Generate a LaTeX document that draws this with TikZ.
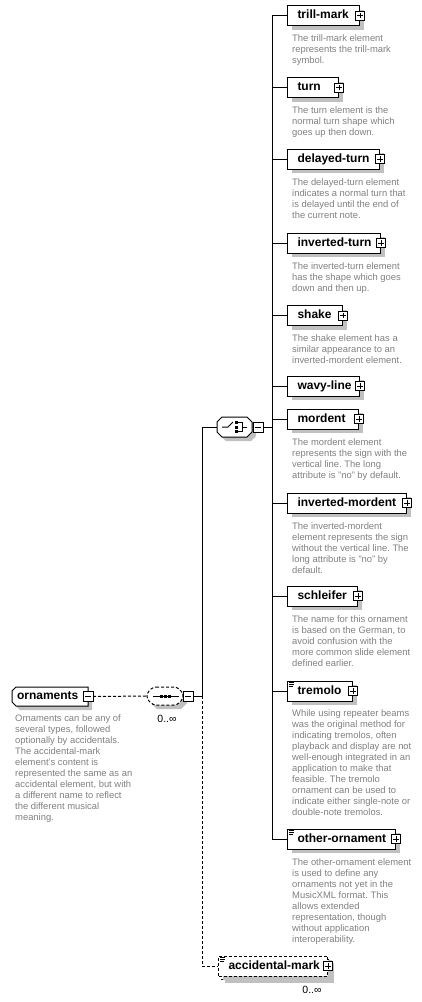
\documentclass[tikz,border=0pt]{standalone}
\usepackage{fontspec}
\setmainfont{Liberation Sans}
\usetikzlibrary{shadows}
\definecolor{shd}{HTML}{C0C0C0}
\definecolor{dsc}{HTML}{808080}
\frenchspacing
\begin{document}
\begin{tikzpicture}[x=1pt,y=-1pt,
  el/.style={draw=black, fill=white, line width=1pt, anchor=west, minimum height=20pt,
    inner xsep=10pt, inner ysep=0pt, text height=8.6pt, text depth=2.4pt, align=left,
    font=\fontsize{12}{14}\selectfont\bfseries,
    general shadow={fill=shd, shadow xshift=4pt, shadow yshift=-4pt}},
  desc/.style={anchor=north west, inner sep=0pt, align=left, text=dsc,
    font=\fontsize{9.4}{11}\selectfont\frenchspacing},
  pl/.style={draw=black, fill=white, line width=0.8pt, minimum size=9pt, inner sep=0pt, outer sep=0pt,
    general shadow={fill=black, shadow xshift=0.9pt, shadow yshift=-0.9pt},
    path picture={\draw[line width=0.8pt]
      ([xshift=1.8pt]path picture bounding box.west) -- ([xshift=-1.8pt]path picture bounding box.east)
      ([yshift=-1.8pt]path picture bounding box.north) -- ([yshift=1.8pt]path picture bounding box.south);}},
  mi/.style={draw=black, fill=white, line width=0.8pt, minimum size=10pt, inner sep=0pt, outer sep=0pt,
    general shadow={fill=black, shadow xshift=0.9pt, shadow yshift=-0.9pt},
    path picture={\draw[line width=0.8pt]
      ([xshift=2pt]path picture bounding box.west) -- ([xshift=-2pt]path picture bounding box.east);}},
  conn/.style={line width=1pt},
  dconn/.style={line width=1pt, dash pattern=on 3pt off 2pt},
  icon/.style={line width=0.8pt},
  mult/.style={inner sep=0pt, font=\fontsize{10.5}{12}\selectfont},
  hold/.style={inner sep=0pt, outer sep=0pt},
]
\useasboundingbox (0,0) rectangle (422,1002);

% ---------------- children of the choice ----------------
\node[el, text width=52pt] (tm) at (287,15.5) {\mbox{trill-mark}};
\node[pl] (tmp) at (tm.east) {};
\node[desc] (tmd) at (292,34.5) {The trill-mark element\\represents the trill-mark\\symbol.};

\node[el, text width=31pt] (tu) at (287,87.5) {\mbox{turn}};
\node[pl] (tup) at (tu.east) {};
\node[desc] (tud) at (292,106.5) {The turn element is the\\normal turn shape which\\goes up then down.};

\node[el, text width=72pt] (dt) at (287,159) {\mbox{delayed-turn}};
\node[pl] (dtp) at (dt.east) {};
\node[desc] (dtd) at (292,178) {The delayed-turn element\\indicates a normal turn that\\is delayed until the end of\\the current note.};

\node[el, text width=73pt] (it) at (287,243) {\mbox{inverted-turn}};
\node[pl] (itp) at (it.east) {};
\node[desc] (itd) at (292,262) {The inverted-turn element\\has the shape which goes\\down and then up.};

\node[el, text width=35pt] (sh) at (287,315.5) {\mbox{shake}};
\node[pl] (shp) at (sh.east) {};
\node[desc] (shd) at (292,334.5) {The shake element has a\\similar appearance to an\\inverted-mordent element.};

\node[el, text width=52pt] (wl) at (287,386) {\mbox{wavy-line}};
\node[pl] (wlp) at (wl.east) {};

\node[el, text width=51pt] (mo) at (287,419) {\mbox{mordent}};
\node[pl] (mop) at (mo.east) {};
\node[desc] (mod) at (292,438) {The mordent element\\represents the sign with the\\vertical line. The long\\attribute is "no" by default.};

\node[el, text width=99pt] (im) at (287,503) {\mbox{inverted-mordent}};
\node[pl] (imp) at (im.east) {};
\node[desc] (imd) at (292,522) {The inverted-mordent\\element represents the sign\\without the vertical line. The\\long attribute is "no" by\\default.};

\node[el, text width=50pt] (sc) at (287,596) {\mbox{schleifer}};
\node[pl] (scp) at (sc.east) {};
\node[desc] (scd) at (292,615) {The name for this ornament\\is based on the German, to\\avoid confusion with the\\more common slide element\\defined earlier.};

\node[el, text width=45pt] (tr) at (287,691) {\mbox{tremolo}};
\node[pl] (trp) at (tr.east) {};
\draw[icon] ([shift={(2,2)}]tr.north west) -- ++(5,0) ++(-5,2) -- ++(5,0) ++(-5,2) -- ++(4,0);
\node[desc] (trd) at (292,709) {While using repeater beams\\was the original method for\\indicating tremolos, often\\playback and display are not\\well-enough integrated in an\\application to make that\\feasible. The tremolo\\ornament can be used to\\indicate either single-note or\\double-note tremolos.};

\node[el, text width=88pt] (oo) at (287,839) {\mbox{other-ornament}};
\node[pl] (oop) at (oo.east) {};
\draw[icon] ([shift={(2,2)}]oo.north west) -- ++(5,0) ++(-5,2) -- ++(5,0) ++(-5,2) -- ++(4,0);
\node[desc] (ood) at (292,858) {The other-ornament element\\is used to define any\\ornaments not yet in the\\MusicXML format. This\\allows extended\\representation, though\\without application\\interoperability.};

% ---------------- accidental-mark (0..unbounded) ----------------
\fill[shd] (225,963) rectangle (334,983);
\draw[dconn, fill=white] (221,959) rectangle (330,979);
\node[el, text width=89pt, dash pattern=on 3pt off 2pt, general shadow={}] (acc) at (218,966) {\mbox{accidental-mark}};
\draw[icon] ([shift={(2,2)}]acc.north west) -- ++(5,0) ++(-5,2) -- ++(5,0) ++(-5,2) -- ++(4,0);
\node[pl] (accp) at (acc.east) {};
\node[mult] (accm) at (312,990) {0..∞};

% ---------------- ornaments element ----------------
\fill[shd] (20,691) -- (92,691) -- (92,710) -- (20,710) -- (16,706) -- (16,695) -- cycle;
\draw[line width=1pt, fill=white] (16,687) -- (88,687) -- (88,706) -- (16,706) -- (12,702) -- (12,691) -- cycle;
\node[hold, anchor=west, font=\fontsize{12}{14}\selectfont\bfseries, text height=8.6pt, text depth=2.4pt] (orn) at (17,696.5) {ornaments};
\node[mi] (ornm) at (88,696.5) {};
\node[desc] (ornd) at (15,714.5) {Ornaments can be any of\\several types, followed\\optionally by accidentals.\\The accidental-mark\\element's content is\\represented the same as an\\accidental element, but with\\a different name to reflect\\the different musical\\meaning.};

% ---------------- sequence compositor ----------------
\fill[shd] (157,691) -- (181,691) -- (187,697) -- (187,703) -- (181,709) -- (157,709) -- (151,703) -- (151,697) -- cycle;
\draw[dconn, fill=white, rounded corners=3pt] (153,687) -- (177,687) -- (183,693) -- (183,699) -- (177,705) -- (153,705) -- (147,699) -- (147,693) -- cycle;
\node[hold, minimum width=36pt, minimum height=18pt] (seq) at (165,696) {};
\draw[line width=1pt] (153,696) -- (179,696);
\fill (159.5,694.5) rectangle (162.5,697.5);
\fill (163.5,694.5) rectangle (166.5,697.5);
\fill (167.5,694.5) rectangle (170.5,697.5);
\node[mi] (seqm) at (188,696) {};
\node[mult] (seqn) at (167,719) {0..∞};

% ---------------- choice compositor ----------------
\fill[shd] (226,421) -- (251,421) -- (256,426) -- (256,436) -- (251,441) -- (226,441) -- (221,436) -- (221,426) -- cycle;
\draw[line width=1pt, fill=white] (222,417) -- (247,417) -- (252,422) -- (252,432) -- (247,437) -- (222,437) -- (217,432) -- (217,422) -- cycle;
\node[hold, minimum width=35pt, minimum height=20pt] (cho) at (234.5,427) {};
\draw[line width=1pt] (222,427) -- (228,427) -- (233,422);
\fill (235,421) rectangle (238,424);
\fill (235,425.5) rectangle (238,428.5);
\fill (235,430) rectangle (238,433);
\draw[line width=1pt] (238,422.5) -- (242,422.5) -- (242,431.5) -- (238,431.5) (242,427) -- (247,427);
\node[mi] (chom) at (258,427.5) {};

% ---------------- connectors ----------------
\coordinate (b1) at (202,696);
\coordinate (b2) at (272,427.5);
\draw[dconn] (ornm.east) -- (seq.west);
\draw[conn] (seqm.east) -- (b1) |- (cho.west);
\draw[dconn] (b1) |- (acc.west);
\draw[conn] (chom.east) -- (b2);
\draw[conn] (tm.west -| b2) -- (oo.west -| b2);
\foreach \n in {tm,tu,dt,it,sh,wl,mo,im,sc,tr,oo}
  \draw[conn] (\n.west -| b2) -- (\n.west);
\end{tikzpicture}
\end{document}
